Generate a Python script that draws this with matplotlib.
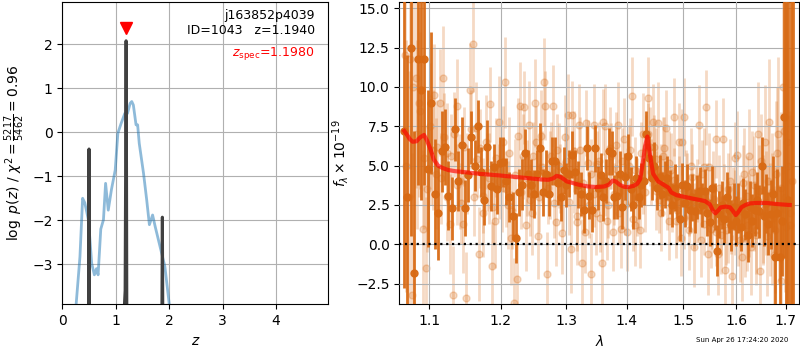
import numpy as np
import matplotlib
matplotlib.use("Agg")
import matplotlib.pyplot as plt
from matplotlib.ticker import FixedLocator, FormatStrFormatter, NullLocator

# ---------------- left panel: redshift PDF ----------------
z_phot = [0.20, 0.26, 0.33, 0.38, 0.42, 0.49, 0.55, 0.60, 0.64, 0.67, 0.72, 0.77, 0.81,
          0.86, 0.92, 0.99, 1.04, 1.10, 1.17, 1.22, 1.27, 1.30, 1.33, 1.38, 1.41, 1.44,
          1.52, 1.58, 1.63, 1.69, 1.74, 1.83, 1.92, 2.00, 2.08]
logp_phot = [-5.0, -3.89, -2.83, -1.50, -1.60, -2.00, -2.98, -3.24, -3.10, -3.24, -2.20,
             -1.99, -1.16, -1.77, -1.30, -0.86, -0.02, 0.20, 0.43, 0.43, 0.66, 0.70, 0.62,
             0.17, 0.17, -0.25, -0.93, -1.54, -2.10, -1.88, -2.15, -2.60, -3.05, -3.89, -5.0]

z_grism = [0.30, 0.490, 0.500, 0.509, 0.70, 1.140, 1.176, 1.185, 1.194, 1.202, 1.208, 1.40,
           1.863, 1.873, 1.882, 2.10]
logp_grism = [-12, -4.5, -0.38, -4.5, -12, -4.5, -3.6, -1.0, 2.08, -1.0, -4.5, -12,
              -4.5, -1.93, -4.5, -12]

z_best = 1.1940
z_spec = 1.1980

# ---------------- right panel: spectrum ----------------
dark_start, dark_step = 1.066, 0.0046
dark_flux = [7.2, 3.0, 12.5, -1.8, 11.8, 9.8, 11.8, 4.8, 9.0, 3.2,
             2.0, 5.9, 6.2, 3.1, 2.3, 7.3, 4.0, 6.3, 2.3, 4.4,
             6.8, 5.0, 7.5, 4.6, 2.8, 6.2, 3.7, 4.9, 3.5, 5.2,
             5.25, 4.0, 3.0, 1.8, 0.4, 3.3, 3.8, 5.8, 4.5, 3.8,
             3.2, 4.5, 6.1, 3.3, 4.5, 3.2, 5.3, 5.3, 3.9, 3.0,
             4.7, 3.8, 4.5, 5.7, 4.6, 3.8, 3.2, 2.2, 6.1, 3.1,
             2.2, 6.1, 3.6, 4.4, 3.0, 4.0, 5.9, 5.8, 3.0, 3.1,
             4.5, 2.4, 4.3, 5.6, 3.5, 2.5, 4.2, 3.0, 3.8, 4.0,
             7.0, 5.5, 4.2, 5.0, 3.6, 4.3, 3.2, 3.8, 4.2, 3.3,
             2.5, 3.6, 3.1, 1.6, 3.8, 2.6, 3.7, 2.2, 3.0, 2.1,
             3.0, 3.4, 2.5, 3.4, 2.0, 1.4, 3.6, 2.4, -0.4, 1.9,
             2.5, 1.6, 3.0, 2.2, 1.2, 2.4, 1.5, 2.3, 1.1, 2.6,
             1.9, 0.6, 2.4, 1.5, 2.2, 2.8, 2.1, 5.0, 1.8, 2.6,
             1.3, 1.9, 3.2, -0.8, 2.0, -0.8, 1.5, 8.1, 21.0, 2.8,
             19.0, -7.0]
dark_err = [10, 9, 12, 9, 8, 7, 8, 5, 4.5, 3.5,
            3.0, 2.6, 2.4, 2.2, 2.0, 2.0, 1.9, 1.8, 1.8, 1.7,
            1.7, 1.6, 1.7, 1.6, 1.6, 1.7, 1.6, 1.5, 1.6, 1.6,
            1.6, 1.5, 1.6, 1.5, 1.6, 1.5, 1.6, 1.5, 1.5, 1.6,
            1.5, 1.5, 1.6, 1.5, 1.5, 1.4, 1.5, 1.5, 1.4, 1.5,
            1.5, 1.4, 1.5, 1.5, 1.4, 1.5, 1.4, 1.5, 1.4, 1.5,
            1.4, 1.5, 1.4, 1.4, 1.5, 1.4, 1.5, 1.4, 1.4, 1.5,
            1.4, 1.4, 1.5, 1.4, 1.4, 1.5, 1.4, 1.4, 1.4, 1.5,
            1.5, 1.4, 1.4, 1.5, 1.4, 1.4, 1.4, 1.5, 1.4, 1.4,
            1.4, 1.5, 1.4, 1.4, 1.4, 1.5, 1.4, 1.4, 1.5, 1.4,
            1.4, 1.5, 1.4, 1.4, 1.5, 1.5, 1.4, 1.5, 1.6, 1.5,
            1.5, 1.5, 1.6, 1.5, 1.6, 1.5, 1.6, 1.6, 1.5, 1.6,
            1.6, 1.7, 1.6, 1.7, 1.7, 1.8, 1.7, 1.8, 1.9, 1.9,
            2.0, 2.2, 2.4, 3.5, 2.8, 4.5, 3.5, 9, 25, 22,
            26, 25]

light1_start, light1_step = 1.0683, 0.0046
light1_flux = [12.0, 3.0, -3.2, 10.6, 9.0, 1.0, -1.5, 7.5, 6.0, 4.5,
               9.0, 10.6, 5.8, 1.3, -3.2, 8.8, 4.0, 1.3, -3.4, 9.8,
               12.7, 7.4, -0.6, 2.0, 6.5, 4.2, -1.4, 1.5, 7.8, 3.6,
               10.3, 2.5, 0.4, -3.7, -2.2, 8.8, 5.6, 1.2, 7.6, 2.0,
               9.0, 0.5, 6.9, 10.3, -1.9, 4.4, 8.8, 1.4, 5.0, 0.7,
               6.8, 8.2, -0.3, 5.9, 1.4, 7.6, -1.2, 0.8, 5.2, -1.9,
               7.6, 2.0, 5.3, -1.2, 7.5, 1.5, 6.1, 0.8, 4.8, 7.6,
               1.0, 6.7, 0.8, 5.0, 9.4, 1.2, 3.0, 0.9, 7.0, 3.3,
               9.3, 6.2, 7.8, 3.4, 7.7, 2.0, 5.6, 7.4, 1.5, 4.7,
               8.1, 1.5, 6.5, 0.4, 8.1, 3.6, 0.9, 5.0, -0.2, 2.5,
               7.6, 0.3, 4.9, 8.7, -0.6, 1.0, 3.5, 6.7, -0.6, 0.6,
               6.7, -1.6, 1.4, 4.0, -2.0, 2.0, 5.7, 0.3, -0.8, 4.5,
               1.2, 5.6, -0.2, 3.8, 0.6, 7.0, -1.7, 2.2, 6.5, 0.5,
               7.8, 1.6, -0.7, 4.5, 7.0, -2.3, 10.0, 3.0, 6.5, 1.2, 4.0]
light1_err = [9, 8, 9, 7, 6, 5, 4.5, 4, 3.8, 3.5,
              3.4, 3.3, 3.2, 3.2, 3.1, 3.0, 3.0, 3.1, 2.9, 3.0,
              3.0, 2.9, 3.0, 2.8, 3.0, 2.9, 2.8, 3.0, 2.9, 2.8,
              2.9, 2.8, 3.0, 2.8, 2.9, 2.8, 2.7, 2.9, 2.8, 2.7,
              2.8, 2.7, 2.9, 2.8, 2.7, 2.8, 2.6, 2.8, 2.7, 2.6,
              2.7, 2.6, 2.8, 2.6, 2.7, 2.6, 2.8, 2.6, 2.7, 2.6,
              2.6, 2.7, 2.5, 2.6, 2.7, 2.5, 2.6, 2.5, 2.6, 2.7,
              2.5, 2.6, 2.5, 2.6, 2.5, 2.6, 2.5, 2.4, 2.6, 2.5,
              2.6, 2.5, 2.4, 2.5, 2.6, 2.4, 2.5, 2.4, 2.5, 2.4,
              2.5, 2.4, 2.5, 2.4, 2.5, 2.4, 2.5, 2.4, 2.5, 2.4,
              2.5, 2.4, 2.5, 2.4, 2.6, 2.5, 2.4, 2.5, 2.6, 2.5,
              2.6, 2.5, 2.6, 2.7, 2.6, 2.7, 2.8, 2.7, 2.8, 2.9,
              2.9, 3.0, 3.0, 3.1, 3.2, 3.3, 3.4, 3.5, 3.6, 3.8,
              4.0, 4.2, 4.4, 4.6, 4.9, 5.2, 5.5, 6.0, 6.5, 7.0, 7.5]

light2_start, light2_step = 1.0695, 0.0046
light2_flux = [5.0, 11.8, 10.0, 7.0, 8.5, 5.5, 3.5, 6.0, 9.5, 6.2,
               4.2, 6.8, 3.0, 5.6, 7.0, 3.8, 2.6, 6.2, 4.5, 7.3,
               3.0, 5.4, 6.1, 3.1, 4.6, 8.9, 2.4, 5.5, 4.0, 6.5,
               3.5, 5.8, 2.1, 4.4, 6.9, 3.3, 8.7, 4.2, 2.8, 5.6,
               6.5, 3.0, 4.9, 8.8, 3.6, 5.6, 2.6, 6.0, 4.2, 3.1,
               5.3, 2.7, 8.2, 4.1, 1.8, 6.0, 3.9, 7.7, 2.5, 4.5,
               3.2, 5.1, 1.7, 7.8, 3.8, 2.5, 5.6, 3.2, 6.3, 2.0,
               5.3, 2.6, 4.4, 6.0, 1.6, 4.7, 2.9, 5.8, 4.0, 6.2,
               7.0, 4.6, 6.2, 5.4, 2.8, 4.4, 6.1, 3.0, 5.2, 2.8,
               4.1, 2.2, 3.6, 6.5, 1.7, 3.7, 2.5, 4.3, 1.8, 3.4,
               2.4, 4.5, 1.3, 3.1, 4.9, 1.8, 2.9, 0.8, 3.6, 1.5,
               2.9, 0.9, 3.5, 1.6, 2.6, 5.5, 1.0, 2.1, 3.9, 0.4,
               3.1, 1.8, 4.6, 2.3, 0.9, 3.4, 5.3, 1.9, 2.6, 4.0,
               1.6, 3.3, 0.9, 5.8, 2.2, 3.6, 7.2, 1.1, 5.0, 2.0]
light2_err = [8, 7, 7, 6, 5, 4.5, 4, 3.5, 3.2, 3.0,
              2.9, 2.8, 2.8, 2.7, 2.7, 2.6, 2.6, 2.5, 2.6, 2.5,
              2.5, 2.4, 2.5, 2.4, 2.5, 2.4, 2.4, 2.5, 2.4, 2.3,
              2.4, 2.3, 2.4, 2.3, 2.4, 2.3, 2.3, 2.4, 2.3, 2.2,
              2.3, 2.2, 2.3, 2.2, 2.3, 2.2, 2.2, 2.3, 2.2, 2.2,
              2.2, 2.1, 2.2, 2.1, 2.2, 2.1, 2.2, 2.1, 2.1, 2.2,
              2.1, 2.1, 2.2, 2.1, 2.0, 2.1, 2.1, 2.0, 2.1, 2.0,
              2.1, 2.0, 2.1, 2.0, 2.0, 2.1, 2.0, 2.0, 2.1, 2.0,
              2.0, 2.1, 2.0, 2.0, 2.1, 2.0, 2.0, 2.1, 2.0, 2.0,
              2.0, 2.1, 2.0, 2.1, 2.0, 2.1, 2.0, 2.1, 2.1, 2.0,
              2.1, 2.1, 2.0, 2.1, 2.2, 2.1, 2.1, 2.2, 2.1, 2.2,
              2.2, 2.2, 2.3, 2.2, 2.3, 2.3, 2.4, 2.3, 2.4, 2.5,
              2.5, 2.6, 2.6, 2.7, 2.8, 2.9, 3.0, 3.1, 3.3, 3.5,
              3.6, 3.8, 4.0, 4.2, 4.5, 4.8, 5.2, 5.6, 6.0, 6.5]

model_wave = [1.067, 1.070, 1.074, 1.078, 1.083, 1.088, 1.093, 1.097, 1.102, 1.106,
              1.112, 1.118, 1.126, 1.135, 1.150, 1.170, 1.198, 1.230, 1.262, 1.272,
              1.280, 1.285, 1.290, 1.296, 1.301, 1.312, 1.322, 1.335, 1.349, 1.362,
              1.370, 1.376, 1.381, 1.388, 1.396, 1.403, 1.412, 1.418, 1.423, 1.428,
              1.432, 1.4355, 1.438, 1.441, 1.4455, 1.4545, 1.466, 1.473, 1.478, 1.488,
              1.500, 1.515, 1.530, 1.540, 1.549, 1.555, 1.560, 1.565, 1.570, 1.580,
              1.588, 1.594, 1.599, 1.604, 1.610, 1.618, 1.627, 1.640, 1.660, 1.685, 1.708]
model_flux = [7.2, 7.0, 6.7, 6.52, 6.55, 6.8, 6.95, 6.6, 6.0, 5.4,
              5.0, 4.85, 4.72, 4.65, 4.58, 4.48, 4.38, 4.25, 4.12, 4.1,
              4.2, 4.35, 4.3, 4.15, 4.0, 3.88, 3.77, 3.68, 3.64, 3.68,
              3.8, 4.05, 4.0, 3.78, 3.65, 3.64, 3.72, 3.85, 4.15, 5.3,
              6.3, 6.85, 6.2, 5.5, 4.5, 4.0, 3.75, 3.6, 3.3, 3.12,
              3.03, 2.92, 2.82, 2.75, 2.55, 2.15, 1.97, 2.15, 2.35, 2.4,
              2.35, 2.1, 1.86, 2.05, 2.35, 2.5, 2.6, 2.63, 2.63, 2.55, 2.5]

xticks_r = [1.1, 1.2, 1.3, 1.4, 1.5, 1.6, 1.7]
yticks_r = [-2.5, 0.0, 2.5, 5.0, 7.5, 10.0, 12.5, 15.0]
yticks_l = [-3, -2, -1, 0, 1, 2]
xticks_l = [0, 1, 2, 3, 4]

title1 = "j163852p4039"
title2 = "ID=1043   z=1.1940"
stamp = "Sun Apr 26 17:24:20 2020"

fig = plt.figure(figsize=(8, 3.5), dpi=100)
axl = fig.add_axes([0.0779, 0.1306, 0.3325, 0.8646])
axr = fig.add_axes([0.4991, 0.1306, 0.5000, 0.8646])

# left
axl.plot(z_phot, logp_phot, color='tab:blue', alpha=0.5, lw=2)
axl.plot(z_grism, logp_grism, color='0.25', lw=2.2)
axl.plot([z_spec], [2.38], marker='v', color='red', ms=8, ls='none')
axl.set_xlim(0, 4.98)
axl.set_ylim(-3.91, 2.97)
axl.set_xticks(xticks_l)
axl.set_yticks(yticks_l)
axl.grid(True)
axl.set_xlabel(r'$z$')
axl.set_ylabel(r'$\log\ p(z)$ / $\chi^2=\frac{5217}{5462}=0.96$')
axl.text(0.95, 0.975, title1 + "\n" + title2, ha='right', va='top',
         transform=axl.transAxes, fontsize=9)
axl.text(0.95, 0.829, r'$z_\mathrm{spec}$=%.4f' % z_spec, ha='right', va='center',
         transform=axl.transAxes, fontsize=9, color='red')

# right
orange = '#d86a14'
w_l1 = light1_start + light1_step * np.arange(len(light1_flux))
w_l2 = light2_start + light2_step * np.arange(len(light2_flux))
w_d = dark_start + dark_step * np.arange(len(dark_flux))
for w, f, e in [(w_l1, light1_flux, light1_err), (w_l2, light2_flux, light2_err)]:
    axr.errorbar(w, f, yerr=e, fmt='o', color=orange, alpha=0.25, ms=5,
                 elinewidth=2.0, capsize=0, zorder=2)
axr.errorbar(w_d, dark_flux, yerr=dark_err, fmt='o', color=orange, alpha=0.95, ms=5,
             elinewidth=2.0, capsize=0, zorder=3)
axr.plot(model_wave, model_flux, color='red', alpha=0.65, lw=3, zorder=5)
axr.axhline(0, color='k', ls=':', lw=1.6, zorder=6)
axr.set_xscale('log')
axr.xaxis.set_major_locator(FixedLocator(xticks_r))
axr.xaxis.set_major_formatter(FormatStrFormatter('%.1f'))
axr.xaxis.set_minor_locator(NullLocator())
axr.set_xlim(1.0605, 1.728)
axr.set_ylim(-3.81, 15.42)
axr.set_yticks(yticks_r)
axr.set_axisbelow(False)
axr.grid(True, zorder=4)
axr.set_xlabel(r'$\lambda$')
axr.set_ylabel(r'$f_\lambda\times10^{-19}$')

fig.text(0.985, 0.028, stamp, ha='right', va='center', fontsize=5)

fig.savefig('out.png', dpi=100)
